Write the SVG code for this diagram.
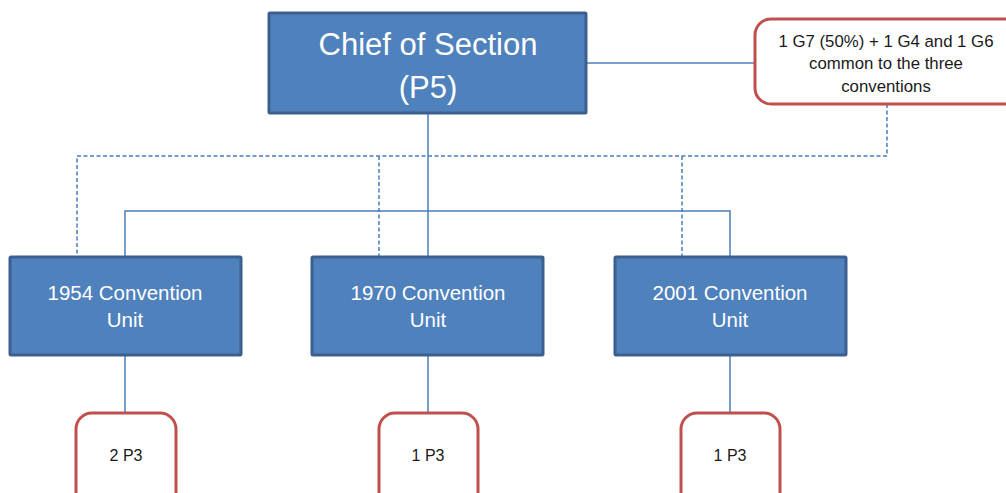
<svg xmlns="http://www.w3.org/2000/svg" width="1006" height="493" viewBox="0 0 1006 493">
<style>
.box{fill:#4F81BD;stroke:#3B6090;stroke-width:3}
.note{fill:#FFFFFF;stroke:#C0504D;stroke-width:3}
.wt{fill:#FFFFFF;font-family:"Liberation Sans",Arial,sans-serif;text-anchor:middle}
.bt{fill:#1a1a1a;font-family:"Liberation Sans",Arial,sans-serif;text-anchor:middle;font-size:16px}
.nt{font-size:16.8px}
.solid{fill:none;stroke:#4A7EBB;stroke-width:1.5}
.dash{fill:none;stroke:#4A7EBB;stroke-width:1.5;stroke-dasharray:4 2.5}
</style>
<g id="connectors">
<line class="solid" x1="586" y1="63" x2="755" y2="63"/>
<line class="solid" x1="428" y1="113" x2="428" y2="257"/>
<polyline class="solid" points="125,257 125,211 730,211 730,257"/>
<polyline class="dash" points="887,104 887,156 77,156 77,257"/>
<line class="dash" x1="379" y1="156" x2="379" y2="257"/>
<line class="dash" x1="682" y1="156" x2="682" y2="257"/>
<line class="solid" x1="125" y1="355" x2="125" y2="413"/>
<line class="solid" x1="428" y1="355" x2="428" y2="413"/>
<line class="solid" x1="730" y1="355" x2="730" y2="413"/>
</g>
<g id="chief">
<rect class="box" x="269" y="13" width="317" height="100" rx="1"/>
<text class="wt" x="428" y="55" font-size="31">Chief of Section</text>
<text class="wt" x="428" y="98" font-size="31">(P5)</text>
</g>
<g id="support">
<rect class="note" x="755" y="19" width="280" height="85" rx="16"/>
<text class="bt nt" x="886" y="47">1 G7 (50%) + 1 G4 and 1 G6</text>
<text class="bt nt" x="886" y="69">common to the three</text>
<text class="bt nt" x="886" y="92">conventions</text>
</g>
<g id="unit1954">
<rect class="box" x="10" y="257" width="231" height="98" rx="1"/>
<text class="wt" x="125" y="300" font-size="20.5">1954 Convention</text>
<text class="wt" x="125" y="327" font-size="20.5">Unit</text>
</g>
<g id="unit1970">
<rect class="box" x="312" y="257" width="231" height="98" rx="1"/>
<text class="wt" x="428" y="300" font-size="20.5">1970 Convention</text>
<text class="wt" x="428" y="327" font-size="20.5">Unit</text>
</g>
<g id="unit2001">
<rect class="box" x="615" y="257" width="231" height="98" rx="1"/>
<text class="wt" x="730" y="300" font-size="20.5">2001 Convention</text>
<text class="wt" x="730" y="327" font-size="20.5">Unit</text>
</g>
<g id="staff1954">
<rect class="note" x="76" y="413" width="100" height="100" rx="16"/>
<text class="bt" x="126" y="461">2 P3</text>
</g>
<g id="staff1970">
<rect class="note" x="379" y="413" width="99" height="100" rx="16"/>
<text class="bt" x="428" y="461">1 P3</text>
</g>
<g id="staff2001">
<rect class="note" x="681" y="413" width="99" height="100" rx="16"/>
<text class="bt" x="730" y="461">1 P3</text>
</g>
</svg>
